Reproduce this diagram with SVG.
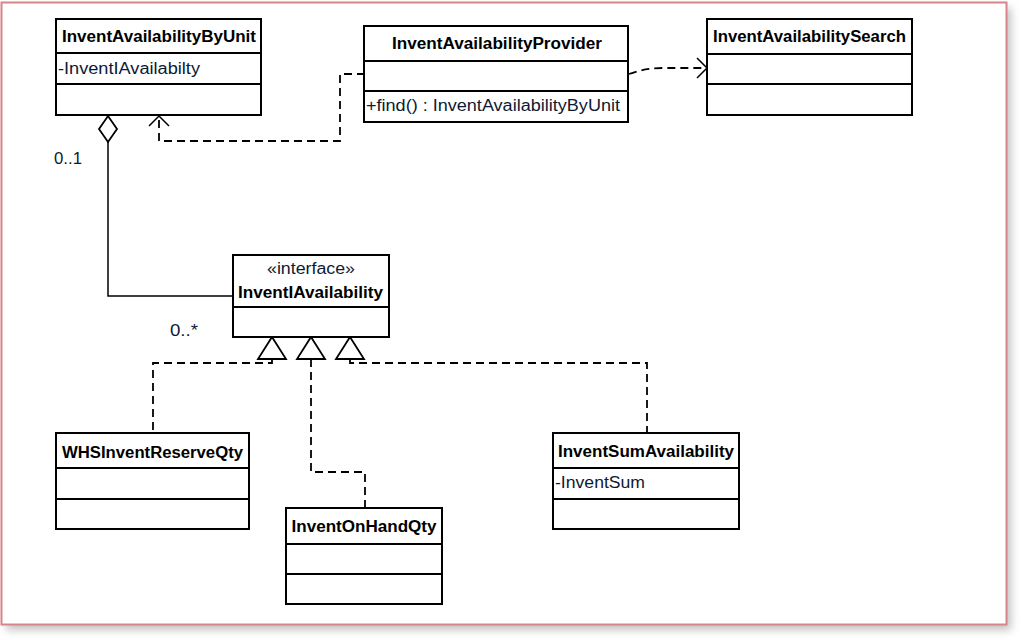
<svg xmlns="http://www.w3.org/2000/svg" width="1023" height="640" viewBox="0 0 1023 640">
<style>
.box{fill:#fff;stroke:#000;stroke-width:2}
.div{stroke:#000;stroke-width:2}
.t{font-family:"Liberation Sans",Arial,sans-serif;font-size:16px;fill:#000}
.b{font-weight:bold;text-anchor:middle}
.lbl{fill:#0d1a33}
.solid{fill:none;stroke:#000;stroke-width:1.5}
.dash{fill:none;stroke:#000;stroke-width:1.8;stroke-dasharray:8 5}
.head{fill:none;stroke:#000;stroke-width:1.5}
.tri{fill:#fff;stroke:#000;stroke-width:1.8}
</style>
<defs>
<filter id="sh" x="-5%" y="-5%" width="110%" height="110%">
<feGaussianBlur stdDeviation="4"/>
</filter>
</defs>
<rect width="1023" height="640" fill="#fff"/>
<rect x="6" y="8" width="1005" height="622" fill="#9a9a9a" opacity="0.6" filter="url(#sh)"/>
<rect x="1.5" y="2.5" width="1005" height="622" fill="#fff" stroke="#d8848a" stroke-width="2"/>

<g id="connectors">
<path class="solid" d="M108,142 V296 H233"/>
<polygon points="108,116 117,129 108,142 99,129" fill="#fff" stroke="#000" stroke-width="1.8"/>
<path class="dash" d="M365,74 H340 V141 H159 V118"/>
<path class="head" d="M149,126 L159,116 L169,126"/>
<path class="dash" d="M629,74 Q645,68 663,68 H705"/>
<path class="head" d="M697,58 L707,68 L697,78"/>
<path class="dash" d="M272,359 V363 H153 V432"/>
<path class="dash" d="M311,359 V472 H365 V507"/>
<path class="dash" d="M350,359 V363 H647 V432"/>
<polygon class="tri" points="272,337 286,359 258,359"/>
<polygon class="tri" points="311,337 325,359 297,359"/>
<polygon class="tri" points="350,337 364,359 336,359"/>
<text class="t lbl" x="54" y="164" textLength="28" lengthAdjust="spacingAndGlyphs">0..1</text>
<text class="t lbl" x="170" y="336" textLength="28" lengthAdjust="spacingAndGlyphs">0..*</text>
</g>

<g id="InventAvailabilityByUnit">
<rect class="box" x="56" y="19" width="205" height="96"/>
<line class="div" x1="56" y1="53" x2="261" y2="53"/>
<line class="div" x1="56" y1="84" x2="261" y2="84"/>
<text class="t b" x="159" y="42" textLength="194" lengthAdjust="spacingAndGlyphs">InventAvailabilityByUnit</text>
<text class="t lbl" x="58" y="74" textLength="142" lengthAdjust="spacingAndGlyphs">-InventIAvailabilty</text>
</g>

<g id="InventAvailabilityProvider">
<rect class="box" x="364" y="26" width="264" height="96"/>
<line class="div" x1="364" y1="61" x2="628" y2="61"/>
<line class="div" x1="364" y1="91" x2="628" y2="91"/>
<text class="t b" x="497" y="49" textLength="210" lengthAdjust="spacingAndGlyphs">InventAvailabilityProvider</text>
<text class="t lbl" x="366" y="111" textLength="254" lengthAdjust="spacingAndGlyphs">+find() : InventAvailabilityByUnit</text>
</g>

<g id="InventAvailabilitySearch">
<rect class="box" x="707" y="19" width="205" height="96"/>
<line class="div" x1="707" y1="54" x2="912" y2="54"/>
<line class="div" x1="707" y1="84" x2="912" y2="84"/>
<text class="t b" x="809.5" y="42" textLength="193" lengthAdjust="spacingAndGlyphs">InventAvailabilitySearch</text>
</g>

<g id="InventIAvailability">
<rect class="box" x="233" y="255" width="156" height="82"/>
<line class="div" x1="233" y1="307" x2="389" y2="307"/>
<text class="t lbl" x="311" y="274" text-anchor="middle" textLength="88" lengthAdjust="spacingAndGlyphs">«interface»</text>
<text class="t b" x="310.5" y="298" textLength="145" lengthAdjust="spacingAndGlyphs">InventIAvailability</text>
</g>

<g id="WHSInventReserveQty">
<rect class="box" x="56" y="433" width="193" height="96"/>
<line class="div" x1="56" y1="468" x2="249" y2="468"/>
<line class="div" x1="56" y1="499" x2="249" y2="499"/>
<text class="t b" x="152.5" y="458" textLength="181" lengthAdjust="spacingAndGlyphs">WHSInventReserveQty</text>
</g>

<g id="InventOnHandQty">
<rect class="box" x="286" y="508" width="156" height="96"/>
<line class="div" x1="286" y1="544" x2="442" y2="544"/>
<line class="div" x1="286" y1="574" x2="442" y2="574"/>
<text class="t b" x="364" y="532" textLength="145" lengthAdjust="spacingAndGlyphs">InventOnHandQty</text>
</g>

<g id="InventSumAvailability">
<rect class="box" x="553" y="433" width="186" height="96"/>
<line class="div" x1="553" y1="468" x2="739" y2="468"/>
<line class="div" x1="553" y1="499" x2="739" y2="499"/>
<text class="t b" x="646" y="457" textLength="176" lengthAdjust="spacingAndGlyphs">InventSumAvailability</text>
<text class="t lbl" x="555" y="488" textLength="90" lengthAdjust="spacingAndGlyphs">-InventSum</text>
</g>
</svg>
